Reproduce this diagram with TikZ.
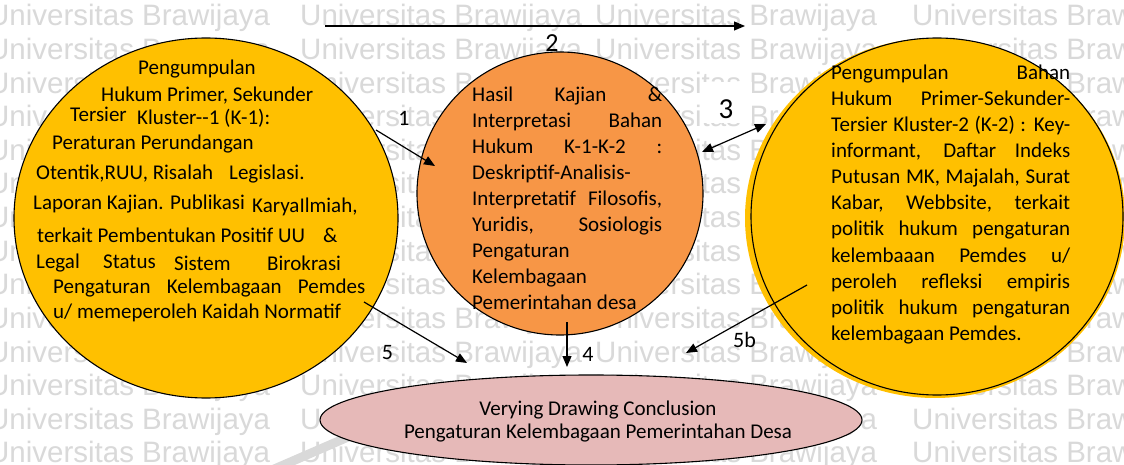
\documentclass[tikz,border=0pt]{standalone}
\usepackage{fontspec}
\setmainfont{Carlito}
\newfontfamily\wmfont{Liberation Sans}
\usetikzlibrary{shapes.geometric,arrows.meta}
\definecolor{ylw}{HTML}{FFC000}
\definecolor{org}{HTML}{F79646}
\definecolor{pnk}{HTML}{E6B9B8}
\definecolor{wmgray}{HTML}{D9D9D9}
\begin{document}
\begin{tikzpicture}[x=1pt,y=-1pt,
  blob/.style={ellipse,draw=black,line width=1.1pt,inner sep=0pt,outer sep=0pt},
  ln/.style={anchor=base west,inner sep=0pt,font=\fontsize{21}{25}\selectfont},
  lbl/.style={anchor=base,inner sep=0pt,font=\fontsize{22}{26}\selectfont},
  arr/.style={line width=1.2pt,-{Triangle[length=11pt,width=9pt]}},
  darr/.style={line width=1.2pt,{Triangle[length=11pt,width=9pt]}-{Triangle[length=11pt,width=9pt]}},
  wmtext/.style={anchor=base west,inner sep=0pt,text=wmgray,font=\wmfont\fontsize{29.5}{30}\selectfont}]
\useasboundingbox (0,0) rectangle (1124,465);
\fill[white] (0,0) rectangle (1124,465);
\begin{scope}
\clip (0,0) rectangle (1124,465);
% watermark
\foreach \r in {0,...,13}
  \foreach \cx [count=\c] in {-12,300,595,912}
    \node[wmtext] (wm\r-\c) at (\cx, 26+33.6*\r) {Universitas Brawijaya};
\draw[wmgray, line width=9pt] (272,470) -- (348,437);
% shapes
\node[blob, fill=ylw, minimum width=384pt, minimum height=360pt] (leftc) at (206,218) {};
\fill[ylw] (935,218) ellipse [x radius=190pt, y radius=180pt];
\node[blob, fill=ylw, minimum width=372pt, minimum height=357pt] (rightc) at (937,216.5) {};
\node[blob, fill=org, minimum width=286pt, minimum height=283pt] (midc) at (560,193.5) {};
\node[blob, fill=pnk, minimum width=542pt, minimum height=90pt] (concl) at (591,420) {};
\end{scope}

% left circle text
\node[ln] (l1) at (138,75) {Pengumpulan};
\node[ln] (l2) at (101,102) {Hukum Primer, Sekunder};
\node[ln] (l3a) at (70,122) {Tersier};
\node[ln] (l3b) at (137,125) {Kluster-{}-1 (K-1):};
\node[ln] (l4) at (52,150) {Peraturan Perundangan};
\node[ln] (l5a) at (36,180) {Otentik,RUU, Risalah};
\node[ln] (l5b) at (229,180) {Legislasi.};
\node[ln] (l6a) at (33,210) {Laporan Kajian. Publikasi};
\node[ln] (l6b) at (252,212) {KaryaIlmiah,};
\node[ln] (l7a) at (37,242) {terkait Pembentukan Positif UU};
\node[ln] (l7b) at (323,242) {\&};
\node[ln] (l8a) at (36,268) {Legal};
\node[ln] (l8b) at (103,268) {Status};
\node[ln] (l8c) at (174,270) {Sistem};
\node[ln] (l8d) at (267,270) {Birokrasi};
\node[ln] (l9) at (53,293) {\makebox[312pt][s]{Pengaturan Kelembagaan Pemdes}};
\node[ln] (l10) at (53,318) {u/ memeperoleh Kaidah Normatif};

% middle circle text
\foreach \t [count=\i] in {{Hasil Kajian \&},{Interpretasi Bahan},{Hukum K-1-K-2 :},{Deskriptif-Analisis-},{Interpretatif Filosofis,},{Yuridis, Sosiologis}}
  \node[ln] (m\i) at (472, 102+25.9*\i-25.9) {\makebox[190pt][s]{\t}};
\node[ln] (m7) at (472, 257.4) {Pengaturan};
\node[ln] (m8) at (472, 283.3) {Kelembagaan};
\node[ln] (m9) at (472, 309.2) {Pemerintahan desa};

% right circle text
\foreach \t [count=\i] in {{Pengumpulan Bahan},{Hukum Primer-Sekunder-},{Tersier Kluster-2 (K-2) : Key-},{informant, Daftar Indeks},{Putusan MK, Majalah, Surat},{Kabar, Webbsite, terkait},{politik hukum pengaturan},{kelembaaan Pemdes u/},{peroleh refleksi empiris},{politik hukum pengaturan}}
  \node[ln] (r\i) at (831, 80+26*\i-26) {\makebox[239pt][s]{\t}};
\node[ln] (r11) at (831, 340) {kelembagaan Pemdes.};

% conclusion text
\node[anchor=base,inner sep=0pt,font=\fontsize{21}{25}\selectfont] (c1) at (598,415) {Verying Drawing Conclusion};
\node[anchor=base,inner sep=0pt,font=\fontsize{21}{25}\selectfont] (c2) at (598,438) {Pengaturan Kelembagaan Pemerintahan Desa};

% connectors
\coordinate (a2s) at (325,26);
\coordinate (a2e) at (745,26);
\coordinate (a1s) at (376,130);
\coordinate (a1e) at (435,166);
\coordinate (a3s) at (702,152);
\coordinate (a3e) at (766,124);
\coordinate (a4s) at (567,322);
\coordinate (a4e) at (567,367);
\coordinate (a5s) at (364,302);
\coordinate (a5e) at (467,363);
\coordinate (a6s) at (807,285);
\coordinate (a6e) at (686,353);
\draw[arr] (a2s) -- (a2e);
\draw[arr] (a1s) -- (a1e);
\draw[darr] (a3s) -- (a3e);
\draw[arr] (a4s) -- (a4e);
\draw[arr] (a5s) -- (a5e);
\draw[arr] (a6s) -- (a6e);

% labels
\node[lbl,font=\fontsize{26}{30}\selectfont] (n2) at (552,52) {2};
\node[lbl] (n1) at (404,126) {1};
\fill[white] (700,82) rectangle (752,123);
\node[lbl,font=\fontsize{29}{32}\selectfont] (n3) at (726,119) {3};
\node[lbl] (n4) at (588,361) {4};
\node[lbl] (n5) at (387.5,359) {5};
\node[lbl] (n5b) at (744.5,347) {5b};
\end{tikzpicture}
\end{document}
